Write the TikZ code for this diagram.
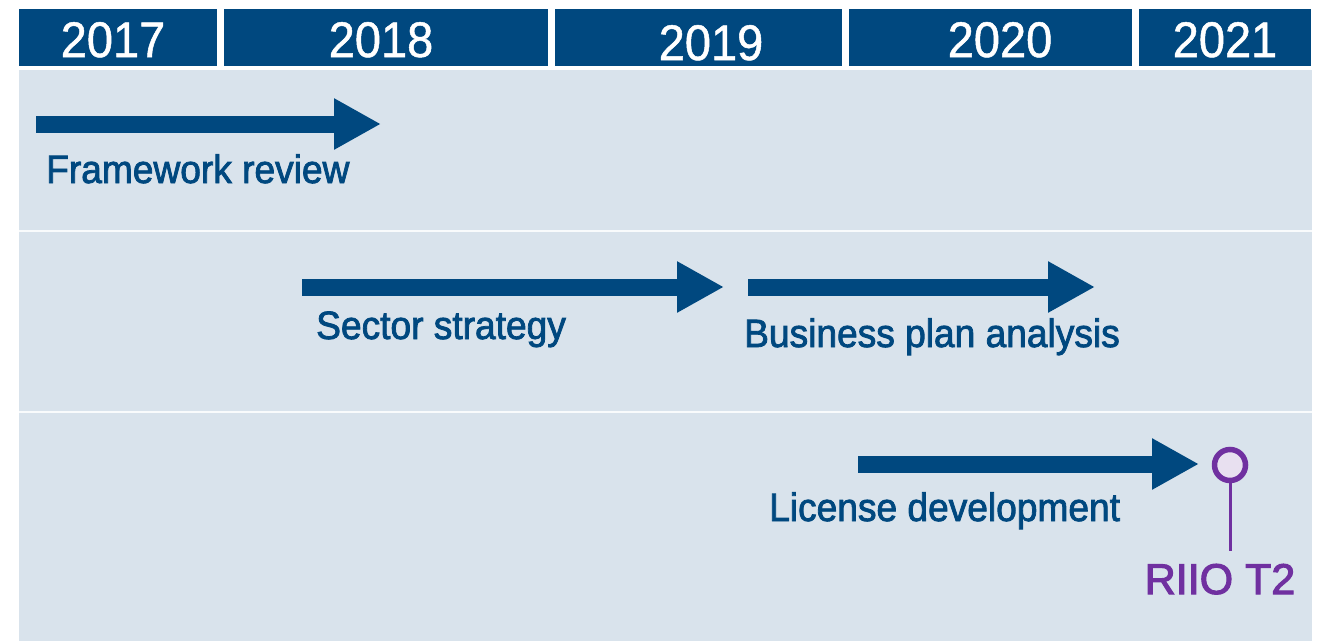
\documentclass[tikz,border=0pt]{standalone}
\usepackage{fontspec}
\setmainfont{Liberation Sans}
\newfontfamily\lblfont[FakeBold=2,FakeStretch=0.94]{Liberation Sans}
\newfontfamily\yrfont[FakeBold=1,FakeStretch=0.94]{Liberation Sans}
\newfontfamily\msfont[FakeBold=2.5]{Liberation Sans}
\usetikzlibrary{arrows.meta}
\definecolor{hdr}{HTML}{00487F}
\definecolor{bgblue}{HTML}{D9E3EC}
\definecolor{purp}{HTML}{7030A0}
\definecolor{lav}{HTML}{E8E0F0}
\begin{document}
\begin{tikzpicture}[x=1pt,y=-1pt,
  yearbox/.style={fill=hdr},
  yeartext/.style={text=white,font=\yrfont\fontsize{50}{52}\selectfont,inner sep=0pt,anchor=base},
  phase/.style={draw=hdr,line width=17pt,-{Triangle[width=48pt,length=47pt]}},
  phaselabel/.style={text=hdr,font=\lblfont\fontsize{39.5}{42}\selectfont,inner sep=0pt,anchor=base west},
  sep/.style={draw=white!85!bgblue,line width=1.5pt}]
\useasboundingbox (0,0) rectangle (1317,641);
\fill[white] (0,0) rectangle (1317,641);
% header
\fill[yearbox] (19,9) rectangle (217,66);
\fill[yearbox] (224,9) rectangle (548,66);
\fill[yearbox] (555,9) rectangle (842,66);
\fill[yearbox] (849,9) rectangle (1132,66);
\fill[yearbox] (1139,9) rectangle (1311,66);
\node[yeartext] (y17) at (113,57) {2017};
\node[yeartext] (y18) at (381,57) {2018};
\node[yeartext] (y19) at (711,60) {2019};
\node[yeartext] (y20) at (1000,57) {2020};
\node[yeartext] (y21) at (1225,57) {2021};
% body
\fill[bgblue] (19,70) rectangle (1312,641);
\draw[sep] (19,231) -- (1312,231);
\draw[sep] (19,412) -- (1312,412);
% arrows
\coordinate (fr1) at (36,124);
\coordinate (fr2) at (381,124);
\draw[phase] (fr1) -- (fr2);
\node[phaselabel] (frl) at (46,183) {Framework review};
\coordinate (ss1) at (302,287);
\coordinate (ss2) at (724,287);
\draw[phase] (ss1) -- (ss2);
\node[phaselabel] (ssl) at (316,339) {Sector strategy};
\coordinate (bp1) at (748,287);
\coordinate (bp2) at (1095,287);
\draw[phase] (bp1) -- (bp2);
\node[phaselabel] (bpl) at (744,347) {Business plan analysis};
\coordinate (ld1) at (858,464);
\coordinate (ld2) at (1199,464);
\draw[phase] (ld1) -- (ld2);
\node[phaselabel] (ldl) at (769,521) {License development};
% milestone
\node[circle,draw=purp,fill=lav,line width=5.5pt,minimum size=31pt,inner sep=0pt] (ms) at (1230,465) {};
\node[text=purp,font=\msfont\fontsize{43}{45}\selectfont,inner sep=0pt,anchor=base] (msl) at (1220,594) {RIIO T2};
\coordinate (stem) at (1230,551);
\draw[purp,line width=3pt] (ms.south) -- (stem);
\end{tikzpicture}
\end{document}
